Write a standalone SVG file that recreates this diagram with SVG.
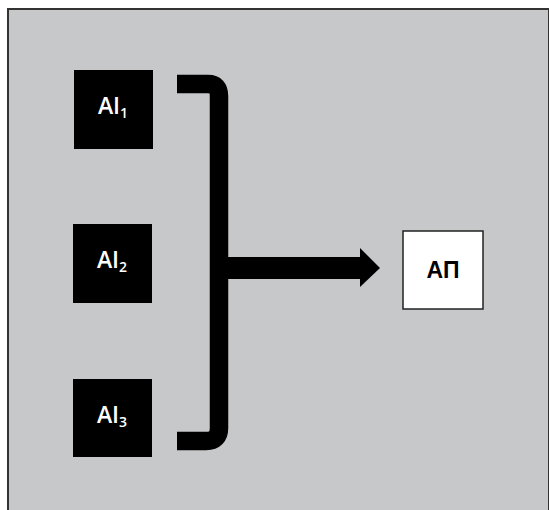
<svg xmlns="http://www.w3.org/2000/svg" width="549" height="510" viewBox="0 0 549 510">
<style>
.ai rect{fill:#000}
.ai text{fill:#fff;font-family:"Open Sans","Liberation Sans",sans-serif;font-weight:600;font-size:23px}
.ai tspan.s{font-size:14px}
.ap rect{fill:#fff;stroke:#222;stroke-width:1.5}
.ap text{fill:#000;font-family:"Liberation Sans",Arial,sans-serif;font-weight:bold;font-size:23px}
.conn path{fill:none;stroke:#000}
</style>
<rect x="8" y="9" width="541" height="510" fill="#c7c8ca" stroke="#333" stroke-width="2"/>
<g id="ai1" class="ai"><rect x="74" y="70" width="79" height="79"/><text x="113" y="114" text-anchor="middle">AI<tspan class="s" dy="4">1</tspan></text></g>
<g id="ai2" class="ai"><rect x="73" y="224" width="79" height="79"/><text x="112" y="268" text-anchor="middle">AI<tspan class="s" dy="4">2</tspan></text></g>
<g id="ai3" class="ai"><rect x="73" y="379" width="79" height="78"/><text x="112" y="423" text-anchor="middle">AI<tspan class="s" dy="4">3</tspan></text></g>
<g id="ap" class="ap"><rect x="403" y="231" width="80" height="78"/><text x="443" y="278" text-anchor="middle">АП</text></g>
<g id="connectors" class="conn">
<path d="M177,84 H208 Q219,84 219,96 V428 Q219,441 206,441 H177" stroke-width="18.5"/>
<path d="M219,268 H362" stroke-width="22"/>
<polygon points="360,248 380,268 360,287" fill="#000"/>
</g>
</svg>
